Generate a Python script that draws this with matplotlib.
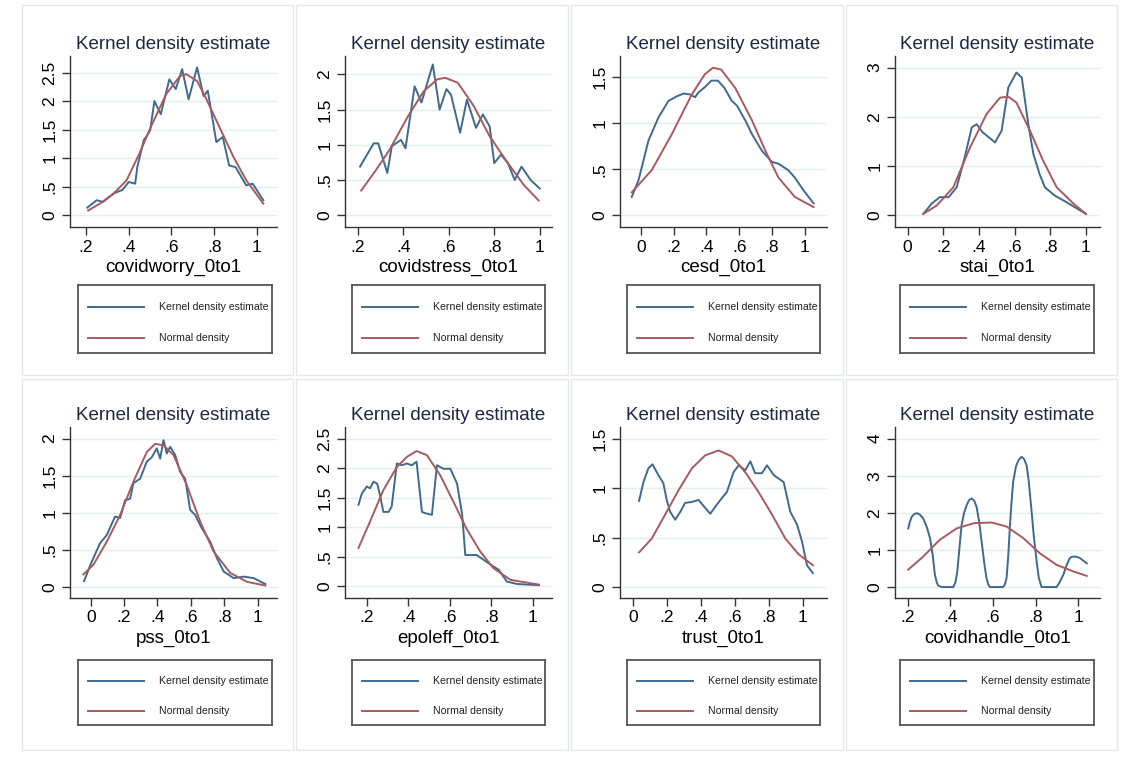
import matplotlib
matplotlib.use("Agg")
import matplotlib.pyplot as plt
from matplotlib.patches import Rectangle

# -----------------------------
# DATA
# -----------------------------
worry_kde_x = [.206, .25, .28, .33, .37, .40, .43, .44, .47, .50, .52, .55, .59, .62, .65, .68, .72, .75, .77, .81, .84, .87, .90, .95, .98, 1.03]
worry_kde_y = [.13, .26, .23, .38, .44, .58, .55, .84, 1.31, 1.48, 2.0, 1.77, 2.38, 2.21, 2.56, 2.03, 2.59, 2.09, 2.18, 1.28, 1.37, .87, .84, .52, .55, .26]
worry_norm_x = [.21, .265, .33, .39, .45, .51, .575, .64, .67, .72, .76, .825, .89, .95, 1.03]
worry_norm_y = [.08, .2, .38, .61, 1.08, 1.6, 2.12, 2.44, 2.47, 2.35, 2.06, 1.54, 1.02, .61, .2]

stress_kde_x = [.21, .27, .29, .33, .35, .39, .41, .45, .48, .53, .56, .59, .61, .65, .68, .72, .75, .78, .80, .83, .86, .89, .92, .96, 1.0]
stress_kde_y = [.69, 1.02, 1.02, .6, .98, 1.07, .95, 1.83, 1.6, 2.14, 1.5, 1.79, 1.71, 1.17, 1.64, 1.24, 1.43, 1.26, .74, .86, .74, .5, .69, .5, .38]
stress_norm_x = [.215, .28, .34, .42, .49, .55, .585, .64, .71, .78, .86, .93, .995]
stress_norm_y = [.35, .64, .93, 1.4, 1.76, 1.93, 1.95, 1.88, 1.55, 1.12, .74, .43, .21]

cesd_kde_x = [-.057, -.016, .045, .106, .167, .218, .26, .30, .33, .35, .39, .43, .47, .51, .555, .586, .637, .678, .739, .80, .84, .90, .94, .994, 1.055]
cesd_kde_y = [.2, .38, .81, 1.06, 1.24, 1.29, 1.32, 1.31, 1.28, 1.33, 1.39, 1.46, 1.46, 1.38, 1.24, 1.19, 1.03, .88, .70, .58, .56, .49, .41, .27, .13]
cesd_norm_x = [-.057, .065, .188, .31, .39, .44, .49, .576, .678, .76, .84, .94, 1.055]
cesd_norm_y = [.25, .49, .88, 1.31, 1.53, 1.6, 1.58, 1.38, 1.03, .70, .41, .2, .09]

stai_kde_x = [.088, .135, .18, .23, .275, .32, .36, .387, .42, .49, .527, .565, .61, .64, .677, .705, .74, .77, .826, .89, 1.0]
stai_kde_y = [.03, .24, .37, .37, .57, 1.18, 1.79, 1.85, 1.69, 1.48, 1.72, 2.6, 2.9, 2.8, 1.85, 1.25, .84, .57, .40, .27, .03]
stai_norm_x = [.088, .163, .256, .35, .443, .518, .565, .61, .686, .76, .836, .93, 1.0]
stai_norm_y = [.03, .2, .57, 1.38, 2.06, 2.39, 2.41, 2.29, 1.72, 1.11, .57, .24, .03]

pss_kde_x = [-.04, .006, .056, .096, .146, .176, .206, .236, .256, .296, .336, .366, .396, .416, .436, .456, .476, .506, .536, .566, .596, .626, .666, .716, .756, .796, .856, .916, .976, 1.046]
pss_kde_y = [.08, .34, .59, .70, .95, .93, 1.17, 1.19, 1.40, 1.46, 1.69, 1.75, 1.87, 1.73, 1.98, 1.80, 1.89, 1.78, 1.55, 1.46, 1.04, .97, .79, .61, .39, .21, .12, .14, .12, .04]
pss_norm_x = [-.044, .016, .096, .176, .256, .336, .386, .436, .496, .576, .656, .736, .836, .936, 1.046]
pss_norm_y = [.17, .30, .61, .97, 1.42, 1.82, 1.93, 1.91, 1.78, 1.37, .88, .48, .19, .07, .02]

epol_kde_x = [.16, .176, .2, .216, .232, .25, .264, .28, .305, .32, .345, .37, .393, .417, .44, .466, .48, .514, .538, .57, .603, .635, .66, .675, .70, .73, .763, .796, .836, .876, .925, 1.03]
epol_kde_y = [1.38, 1.57, 1.69, 1.66, 1.77, 1.74, 1.54, 1.26, 1.26, 1.35, 2.08, 2.05, 2.08, 2.05, 2.11, 1.26, 1.24, 1.21, 2.05, 1.99, 1.99, 1.74, 1.21, .53, .53, .53, .45, .37, .28, .08, .04, .02]
epol_norm_x = [.16, .216, .28, .345, .393, .44, .49, .554, .618, .68, .747, .81, .893, 1.03]
epol_norm_y = [.65, 1.10, 1.63, 2.02, 2.19, 2.29, 2.22, 1.88, 1.43, .98, .59, .31, .11, .03]

trust_kde_x = [.037, .063, .092, .116, .151, .18, .20, .22, .25, .28, .308, .348, .387, .426, .456, .485, .525, .554, .593, .623, .662, .692, .72, .76, .79, .83, .888, .927, .967, .996, 1.025, 1.06]
trust_kde_y = [.87, 1.06, 1.20, 1.24, 1.13, 1.05, .88, .76, .68, .76, .85, .86, .88, .80, .74, .81, .90, .96, 1.16, 1.23, 1.18, 1.27, 1.15, 1.15, 1.23, 1.13, 1.06, .76, .63, .46, .22, .14]
trust_norm_x = [.037, .112, .19, .27, .348, .426, .505, .583, .662, .74, .82, .898, .976, 1.06]
trust_norm_y = [.35, .49, .73, .98, 1.20, 1.33, 1.38, 1.32, 1.16, .96, .73, .49, .33, .22]

handle_kde_x = [.203, .212, .22, .232, .245, .258, .273, .29, .305, .318, .328, .337, .344, .355, .367, .414, .424, .433, .443, .453, .465, .477, .488, .50, .512, .523, .535, .547, .56, .57, .578, .586, .648, .656, .664, .672, .68, .688, .695, .708, .72, .734, .746, .758, .768, .78, .792, .805, .815, .828, .898, .912, .93, .945, .96, .972, .984, .996, 1.008, 1.04]
handle_kde_y = [1.58, 1.78, 1.90, 1.97, 1.99, 1.95, 1.85, 1.62, 1.32, .85, .33, .12, .04, .01, 0, 0, .12, .42, 1.05, 1.67, 2.0, 2.21, 2.34, 2.39, 2.33, 2.17, 1.78, 1.23, .62, .24, .07, 0, 0, .07, .24, .85, 1.67, 2.35, 2.84, 3.25, 3.42, 3.51, 3.45, 3.28, 2.85, 2.12, 1.35, .69, .25, 0, 0, .12, .33, .58, .78, .82, .82, .81, .78, .64]
handle_norm_x = [.203, .273, .35, .43, .51, .594, .664, .742, .82, .898, .977, 1.04]
handle_norm_y = [.47, .82, 1.27, 1.58, 1.72, 1.74, 1.63, 1.32, .91, .60, .42, .30]

var_names = ["covidworry_0to1", "covidstress_0to1", "cesd_0to1", "stai_0to1",
             "pss_0to1", "epoleff_0to1", "trust_0to1", "covidhandle_0to1"]

x_ticks_a = [.2, .4, .6, .8, 1]
x_labels_a = [".2", ".4", ".6", ".8", "1"]
x_ticks_b = [0, .2, .4, .6, .8, 1]
x_labels_b = ["0", ".2", ".4", ".6", ".8", "1"]

y_ticks_25 = [0, .5, 1, 1.5, 2, 2.5]
y_labels_25 = ["0", ".5", "1", "1.5", "2", "2.5"]
y_ticks_2 = [0, .5, 1, 1.5, 2]
y_labels_2 = ["0", ".5", "1", "1.5", "2"]
y_ticks_15 = [0, .5, 1, 1.5]
y_labels_15 = ["0", ".5", "1", "1.5"]
y_ticks_3 = [0, 1, 2, 3]
y_labels_3 = ["0", "1", "2", "3"]
y_ticks_4 = [0, 1, 2, 3, 4]
y_labels_4 = ["0", "1", "2", "3", "4"]

# -----------------------------
# LAYOUT (pixel boxes in the 1132x767 image)
# -----------------------------
W, H = 1132, 767
KDE_COLOR = "#3f6a8e"
NORM_COLOR = "#a95a5e"
TITLE_COLOR = "#1c2744"
GRID_COLOR = "#e3eeef"

plt.rcParams["font.family"] = ["Liberation Sans", "DejaVu Sans"]

fig = plt.figure(figsize=(W / 100, H / 100), dpi=100)
fig.patch.set_facecolor("white")


def box(x0, y0, x1, y1):
    return [x0 / W, 1 - y1 / H, (x1 - x0) / W, (y1 - y0) / H]


panels = [
    (worry_kde_x, worry_kde_y, worry_norm_x, worry_norm_y, x_ticks_a, x_labels_a, y_ticks_25, y_labels_25, (.125, 1.094), (-.21, 2.79)),
    (stress_kde_x, stress_kde_y, stress_norm_x, stress_norm_y, x_ticks_a, x_labels_a, y_ticks_2, y_labels_2, (.144, 1.054), (-.167, 2.26)),
    (cesd_kde_x, cesd_kde_y, cesd_norm_x, cesd_norm_y, x_ticks_b, x_labels_b, y_ticks_15, y_labels_15, (-.129, 1.137), (-.126, 1.727)),
    (stai_kde_x, stai_kde_y, stai_norm_x, stai_norm_y, x_ticks_b, x_labels_b, y_ticks_3, y_labels_3, (-.071, 1.079), (-.236, 3.236)),
    (pss_kde_x, pss_kde_y, pss_norm_x, pss_norm_y, x_ticks_b, x_labels_b, y_ticks_2, y_labels_2, (-.124, 1.116), (-.148, 2.157)),
    (epol_kde_x, epol_kde_y, epol_norm_x, epol_norm_y, x_ticks_a, x_labels_a, y_ticks_25, y_labels_25, (.095, 1.093), (-.197, 2.697)),
    (trust_kde_x, trust_kde_y, trust_norm_x, trust_norm_y, x_ticks_b, x_labels_b, y_ticks_15, y_labels_15, (-.075, 1.143), (-.111, 1.617)),
    (handle_kde_x, handle_kde_y, handle_norm_x, handle_norm_y, x_ticks_a, x_labels_a, y_ticks_4, y_labels_4, (.141, 1.102), (-.295, 4.313)),
]

col_axes = [(70, 277), (345, 552), (620, 827), (895, 1100)]
col_legend = [(78, 272), (352, 545), (627, 820), (900, 1094)]
col_cells = [(22, 293), (296, 568), (571, 843), (846, 1117)]
row_axes = [(56, 227), (427, 598)]
row_legend = [(285, 353), (660, 725)]
row_cells = [(5, 375), (379, 750)]

for i, (kx, ky, nx, ny, xt, xtl, yt, ytl, xlim, ylim) in enumerate(panels):
    r, c = divmod(i, 4)

    # faint cell frame
    cx0, cx1 = col_cells[c]
    cy0, cy1 = row_cells[r]
    fig.add_artist(Rectangle((cx0 / W, 1 - cy1 / H), (cx1 - cx0) / W, (cy1 - cy0) / H,
                             transform=fig.transFigure, fill=False, ec="#e4e8e8", lw=1))

    ax0, ax1 = col_axes[c]
    ay0, ay1 = row_axes[r]
    ax = fig.add_axes(box(ax0, ay0, ax1, ay1))
    ax.plot(kx, ky, color=KDE_COLOR, lw=1.4, solid_joinstyle="round")
    ax.plot(nx, ny, color=NORM_COLOR, lw=1.4)
    ax.set_xlim(*xlim)
    ax.set_ylim(*ylim)
    ax.set_xticks(xt)
    ax.set_xticklabels(xtl)
    ax.set_yticks(yt)
    ax.set_yticklabels(ytl, rotation=90, va="center")
    ax.grid(axis="y", color=GRID_COLOR, lw=1)
    ax.set_axisbelow(True)
    for s in ["top", "right"]:
        ax.spines[s].set_visible(False)
    for s in ["left", "bottom"]:
        ax.spines[s].set_color("#333333")
        ax.spines[s].set_linewidth(1)
    ax.tick_params(length=6, width=1, color="#333333", labelsize=12.5, pad=3)
    ax.set_xlabel(var_names[i], fontsize=13.5, labelpad=3)
    ax.set_title("Kernel density estimate", fontsize=13.5, color=TITLE_COLOR, pad=5)

    # legend box
    lx0, lx1 = col_legend[c]
    ly0, ly1 = row_legend[r]
    lax = fig.add_axes(box(lx0, ly0, lx1, ly1))
    lax.set_xlim(0, 1)
    lax.set_ylim(0, 1)
    lax.set_xticks([])
    lax.set_yticks([])
    for s in lax.spines.values():
        s.set_color("#555555")
        s.set_linewidth(1.3)
    lax.plot([.05, .34], [.68, .68], color=KDE_COLOR, lw=1.4)
    lax.plot([.05, .34], [.22, .22], color=NORM_COLOR, lw=1.4)
    t1 = lax.text(.42, .68, "Kernel density estimate", fontsize=7.6, va="center", color="#222222")
    t2 = lax.text(.42, .22, "Normal density", fontsize=7.6, va="center", color="#222222")
    t1.set_clip_on(True)
    t2.set_clip_on(True)

fig.savefig("out.png", dpi=100)
